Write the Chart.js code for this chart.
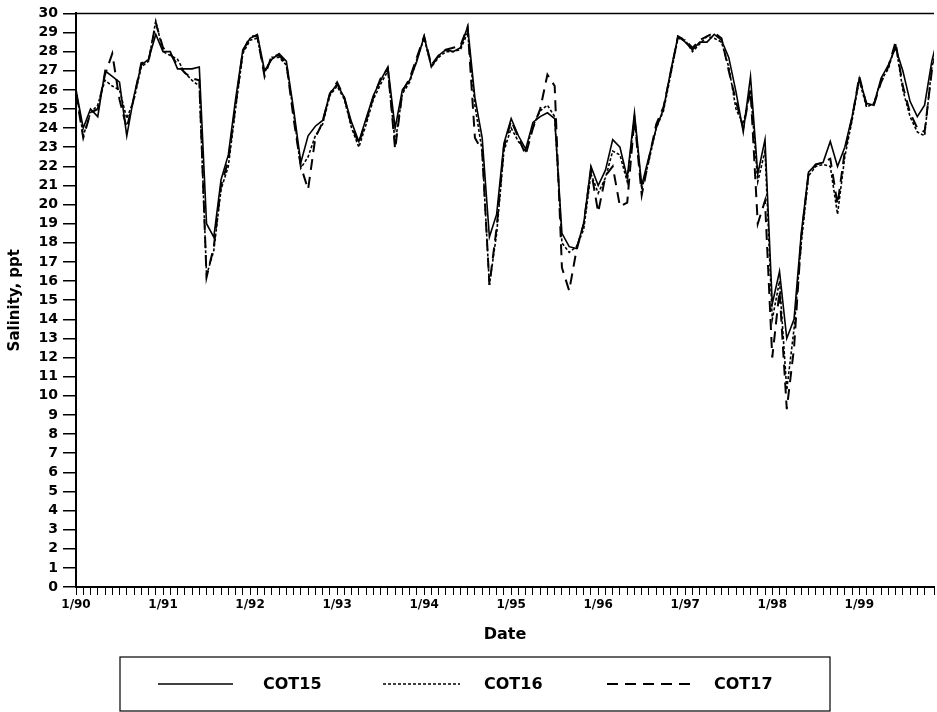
<!DOCTYPE html>
<html>
<head>
<meta charset="utf-8">
<script src="https://cdn.jsdelivr.net/npm/chart.js@4"></script>
<style>
  html, body { margin: 0; padding: 0; background: #fff; }
  #wrap { width: 937px; height: 712px; }
</style>
</head>
<body>
<div id="wrap"><canvas id="salinidad" width="937" height="712"></canvas></div>
<script>
// meses desde 1/90 (0 = enero 1990)
const months = Array.from({ length: 120 }, (_, i) => i);
const yearLabels = ['1/90', '1/91', '1/92', '1/93', '1/94', '1/95', '1/96', '1/97', '1/98', '1/99'];

const cot15 = [
  26.0, 24.0, 25.0, 24.6, 27.0, 26.7, 26.4, 23.6, 25.7, 27.3, 27.6, 28.9,
  28.0, 28.0, 27.1, 27.1, 27.1, 27.2, 19.0, 18.3, 21.3, 22.6, 25.5, 28.1,
  28.7, 28.9, 27.0, 27.6, 27.9, 27.5, 25.0, 22.2, 23.6, 24.1, 24.4, 25.8,
  26.3, 25.6, 24.3, 23.3, 24.5, 25.7, 26.5, 27.2, 24.0, 26.0, 26.5, 27.5,
  28.8, 27.2, 27.8, 28.1, 28.0, 28.2, 29.3, 25.6, 23.5, 18.3, 19.5, 23.2,
  24.5, 23.6, 22.9, 24.3, 24.6, 24.8, 24.5, 18.5, 17.8, 17.7, 19.0, 22.0,
  21.0, 21.8, 23.4, 23.0, 21.4, 24.8, 21.0, 22.5, 24.0, 25.0, 27.0, 28.8,
  28.5, 28.1, 28.5, 28.5, 28.9, 28.6, 27.7, 25.9, 23.8, 26.7, 21.6, 23.4,
  14.8, 16.5, 13.0, 14.0, 18.5, 21.7, 22.1, 22.2, 23.3, 22.0, 23.0, 24.6,
  26.6, 25.3, 25.2, 26.6, 27.3, 28.2, 27.0, 25.4, 24.6, 25.2, 27.5, 29.0
];

const cot16 = [
  26.0, 23.6, 24.8, 25.2, 26.5, 26.2, 26.0, 24.5, 25.5, 27.2, 27.5, 29.6,
  28.0, 27.8, 27.6, 26.9, 26.5, 26.2, 16.3, 17.6, 20.8, 22.0, 25.0, 27.9,
  28.6, 28.7, 26.9, 27.7, 27.7, 27.3, 24.8, 21.9, 22.5, 23.6, 24.2, 25.7,
  26.2, 25.5, 24.0, 23.0, 24.2, 25.5, 26.3, 27.0, 23.2, 25.8, 26.4, 27.6,
  28.7, 27.2, 27.7, 28.0, 28.0, 28.1, 29.0, 25.2, 22.8, 15.8, 18.5, 22.8,
  24.0, 23.3, 22.8, 24.1, 24.9, 25.2, 24.6, 18.0, 17.5, 17.8, 18.7, 21.6,
  20.6, 21.4, 22.8, 22.6, 21.2, 24.6, 20.8, 22.3, 24.0, 24.9, 26.8, 28.7,
  28.6, 28.0, 28.4, 28.8, 28.7, 28.5, 27.2, 25.0, 24.2, 26.0, 21.2, 22.8,
  14.0, 16.0, 10.3, 13.5, 18.0, 21.5, 22.0, 22.1, 22.0, 19.5, 22.5, 24.4,
  26.5, 25.1, 25.3, 26.5, 27.1, 28.4, 26.0, 24.6, 23.8, 23.6, 27.2, 28.5
];

const cot17 = [
  25.8, 23.5, 24.8, 25.0, 26.8, 27.9, 25.5, 24.0, 25.6, 27.4, 27.5, 29.5,
  28.2, 27.9, 27.3, 26.9, 26.6, 26.5, 16.2, 17.8, 21.0, 22.3, 25.2, 28.0,
  28.8, 28.8, 26.7, 27.8, 27.8, 27.4, 24.5, 22.0, 20.8, 23.5, 24.3, 25.8,
  26.4, 25.6, 24.1, 23.2, 24.4, 25.6, 26.6, 27.1, 22.9, 25.9, 26.6, 27.7,
  28.8, 27.3, 27.8, 28.1, 28.2, 28.3, 29.3, 23.5, 22.8, 15.8, 18.8, 23.0,
  24.4, 23.5, 22.6, 24.0, 25.0, 26.8, 26.2, 16.7, 15.5, 17.6, 19.0, 21.8,
  19.6, 21.5, 22.0, 19.9, 20.1, 24.5, 20.5, 22.4, 24.2, 25.1, 26.9, 28.8,
  28.6, 28.2, 28.6, 28.8, 29.0, 28.7, 27.0, 25.4, 24.0, 26.0, 19.0, 20.2,
  12.0, 15.5, 9.3, 12.5, 18.3, 21.6, 22.1, 22.2, 22.4, 20.0, 22.8, 24.5,
  26.7, 25.2, 25.2, 26.4, 27.2, 28.5, 26.2, 24.8, 24.0, 23.8, 27.0, 28.6
];

const seriesNames = ['COT15', 'COT16', 'COT17'];
const fuente = 'DejaVu Sans';

// cuadro de leyenda y linea superior del marco
const marcoYLeyenda = {
  id: 'marcoYLeyenda',
  afterDraw(chart) {
    const { ctx, chartArea } = chart;
    ctx.save();
    ctx.strokeStyle = '#000';
    ctx.lineWidth = 1.5;
    ctx.beginPath();
    ctx.moveTo(chartArea.left, chartArea.top);
    ctx.lineTo(chartArea.right, chartArea.top);
    ctx.stroke();

    // caja
    ctx.lineWidth = 1.2;
    ctx.strokeRect(120, 657, 710, 54);

    const muestras = [
      { x1: 158, x2: 233, tx: 263 },
      { x1: 383, x2: 460, tx: 484 },
      { x1: 607, x2: 693, tx: 714 }
    ];
    const yl = 684;
    ctx.font = 'bold 16px "' + fuente + '"';
    ctx.fillStyle = '#000';
    ctx.textBaseline = 'middle';
    chart.data.datasets.forEach((ds, i) => {
      const m = muestras[i];
      ctx.setLineDash(ds.borderDash || []);
      ctx.lineWidth = ds.borderWidth;
      ctx.beginPath();
      ctx.moveTo(m.x1, yl);
      ctx.lineTo(m.x2, yl);
      ctx.stroke();
      ctx.setLineDash([]);
      ctx.fillText(ds.label, m.tx, yl + 1);
    });
    ctx.restore();
  }
};

const ctx = document.getElementById('salinidad').getContext('2d');

new Chart(ctx, {
  type: 'line',
  data: {
    labels: months,
    datasets: [
      { label: seriesNames[0], data: cot15, borderColor: '#000', borderWidth: 1.6, borderDash: [] },
      { label: seriesNames[1], data: cot16, borderColor: '#000', borderWidth: 1.6, borderDash: [3, 2] },
      { label: seriesNames[2], data: cot17, borderColor: '#000', borderWidth: 2, borderDash: [11, 7] }
    ]
  },
  options: {
    responsive: false,
    animation: false,
    events: [],
    layout: { padding: { top: 10, right: 0, bottom: 65, left: 0 } },
    elements: { point: { radius: 0 }, line: { tension: 0 } },
    plugins: { legend: { display: false }, tooltip: { enabled: false } },
    scales: {
      x: {
        type: 'linear',
        min: 0,
        max: 118.3,
        afterFit: (scale) => { scale.height = 60; },
        border: { color: '#000', width: 2 },
        grid: { drawOnChartArea: false, color: '#000', tickLength: 8, lineWidth: 1 },
        ticks: {
          stepSize: 1,
          autoSkip: false,
          maxRotation: 0,
          padding: 3,
          color: '#000',
          font: { family: fuente, weight: 'bold', size: 12 },
          callback: (v) => (Number.isInteger(v) && v % 12 === 0) ? yearLabels[v / 12] : ''
        },
        title: {
          display: true,
          text: 'Date',
          color: '#000',
          font: { family: fuente, weight: 'bold', size: 16 },
          padding: { top: 0, bottom: 3 }
        }
      },
      y: {
        min: 0,
        max: 30,
        afterFit: (scale) => { scale.width = 76; },
        border: { color: '#000', width: 2 },
        grid: { drawOnChartArea: false, color: '#000', tickLength: 13, lineWidth: 1.5 },
        ticks: {
          stepSize: 1,
          autoSkip: false,
          padding: 5,
          color: '#000',
          font: { family: fuente, weight: 'bold', size: 14 }
        },
        title: {
          display: true,
          text: 'Salinity, ppt',
          color: '#000',
          font: { family: fuente, weight: 'bold', size: 15 },
          padding: { top: 6, bottom: 0 }
        }
      }
    }
  },
  plugins: [marcoYLeyenda]
});
</script>
</body>
</html>
